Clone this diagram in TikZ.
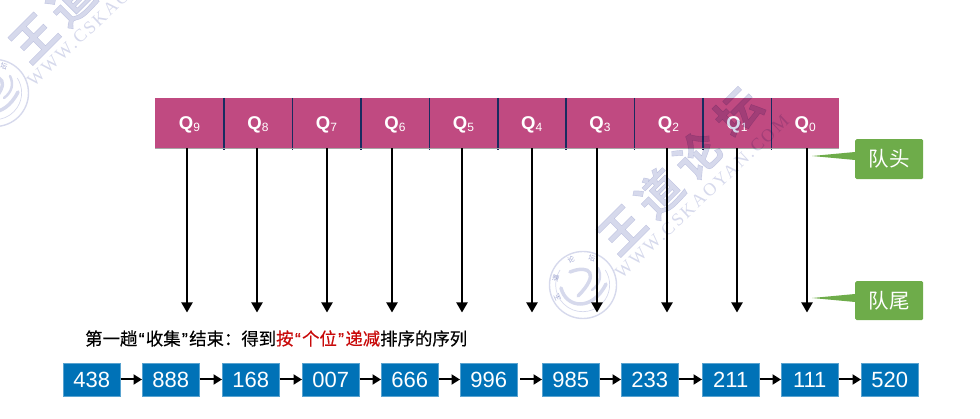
\documentclass[tikz,border=0pt]{standalone}
\usepackage{fontspec}
\setmainfont{Liberation Sans}
\newfontfamily\cjk{Noto Sans CJK SC}
\newfontfamily\cjkb{Noto Sans CJK SC}[FakeBold=0.45]
\newfontfamily\cjkh{Noto Sans CJK SC Bold}[FakeBold=0.8]
\newfontfamily\wmfont{Liberation Serif}[LetterSpace=12]
\newfontfamily\quotefont{Liberation Sans}[FakeBold=0.45]
\usetikzlibrary{arrows.meta,positioning,calc}
\definecolor{qmag}{RGB}{192,74,129}
\definecolor{qdiv}{RGB}{24,44,96}
\definecolor{lgreen}{RGB}{110,172,74}
\definecolor{nblue}{RGB}{0,114,183}
\definecolor{wm}{RGB}{214,217,236}
\definecolor{redt}{RGB}{200,10,10}
\tikzset{
  x=1pt,y=-1pt,
  qcell/.style={fill=qmag,draw=none,minimum height=50pt,inner sep=0pt,text height=14pt,text depth=0pt,text=white,font=\fontsize{18.5}{18}\selectfont\bfseries},
  divline/.style={draw=qdiv,line width=1.3pt},
  qarrow/.style={draw=black,line width=2pt,-{Triangle[length=10pt,width=11pt]}},
  tagbox/.style={fill=lgreen,rounded corners=1.5pt,inner sep=0pt,minimum width=68pt,minimum height=40pt,text=white,font=\fontsize{20.5}{20.5}\selectfont\cjk},
  numbox/.style={fill=nblue,draw=nblue!65!white,line width=.5pt,inner sep=0pt,minimum width=57pt,minimum height=33pt,text=white,font=\fontsize{22}{22}\selectfont},
  linkarrow/.style={draw=black,line width=2pt,-{Triangle[length=8.5pt,width=10pt]}},
  wmchar/.style={text=wm,inner sep=0pt,rotate=45,font=\fontsize{45}{45}\selectfont\cjkh},
  wmurl/.style={text=wm,inner sep=0pt,rotate=43,font=\fontsize{18}{18}\selectfont\wmfont},
  wmring/.style={draw=wm,line width=1.4pt},
  wmtiny/.style={text=wm,inner sep=0pt,font=\fontsize{7}{7}\selectfont\cjkb},
}
\newcommand{\subq}[1]{{\fontsize{12}{10}\selectfont\mdseries\raisebox{-2pt}{#1}}}
\newcommand{\openq}{\makebox[8.5pt]{\quotefont “}}
\newcommand{\closeq}{\makebox[8.5pt]{\quotefont ”}}
\newcommand{\wmark}[2]{%
  \begin{scope}[shift={(#1,#2)}]
    \node[wmchar] at (622,230) {王};
    \node[wmchar] at (659,193) {道};
    \node[wmchar] at (697,155) {论};
    \node[wmchar] at (738,112) {坛};
    \node[wmurl] at (702,197) {WWW.CSKAOYAN.COM};
    \draw[wmring] (583,285) circle (33.5);
    \draw[wmring,line width=.7pt] (560,270) arc[start angle=213,end angle=-33,radius=27,y radius=27];
    \draw[wmring,line width=3.5pt,line cap=round] (561,288) .. controls (566,308) and (592,312) .. (606,284);
    \draw[wmring,line width=3.5pt,line cap=round] (570,272) .. controls (590,264) and (600,274) .. (578,296);
    \draw[wmring,line width=2.5pt,line cap=round] (592,290) .. controls (600,284) and (602,276) .. (598,268);
    \foreach \c/\a in {王/205,道/165,论/115,坛/72}{
      \node[wmtiny,rotate=\a-90] at ($(583,285)+(\a:28.5 and -28.5)$) {\c};
    }
  \end{scope}}
\begin{document}
\begin{tikzpicture}
\useasboundingbox (0,0) rectangle (980,419);
% queue cells
\foreach \n/\l/\r in {9/155/223.5,8/223.5/292,7/292/360.5,6/360.5/429,5/429/497.5,4/497.5/565.5,3/565.5/634,2/634/702.5,1/702.5/771,0/771/839}{
  \node[qcell,minimum width={\r-\l},anchor=west] (q\n) at (\l,123) {Q\subq{\n}};
}
\foreach \a in {9,8,7,6,5,4,3,2,1}{
  \draw[divline] (q\a.north east) -- ($(q\a.south east)+(0,1.5)$);
}
\draw[draw=black!35,line width=.6pt] (q9.south west) -- (q0.south east);
% arrows
\foreach \n/\x in {9/187,8/257,7/327,6/392,5/462,4/532,3/597,2/667,1/737,0/807}{
  \coordinate (e\n) at (\x,312.5);
  \draw[qarrow] (q\n.south -| e\n) -- (e\n);
}
% callouts
\node[tagbox,anchor=north west] (head) at (855,139) {队头};
\node[tagbox,anchor=north west,minimum height=39pt] (tail) at (855,281) {队尾};
\coordinate (ht) at (812,156);
\coordinate (tt) at (812,298);
\fill[lgreen] (ht) -- ($(head.north west)+(0,13)$) -- ($(head.north west)+(0,21)$) -- cycle;
\fill[lgreen] (tt) -- ($(tail.north west)+(0,13)$) -- ($(tail.north west)+(0,21)$) -- cycle;
% caption
\node[anchor=west,inner sep=0pt,font=\fontsize{17.4}{17.4}\selectfont\cjkb] (cap) at (85,338.5)
  {第一趟\openq{}收集\closeq{}结束：得到\textcolor{redt}{按\openq{}个位\closeq{}递减}排序的序列};
% number chain
\foreach \n/\x/\t in {a/63/438,b/142/888,c/222/168,d/302/007,e/381/666,f/460/996,g/542/985,h/621/233,i/702/211,j/781/111,k/861/520}{
  \node[numbox,anchor=west] (\n) at (\x,379.5) {\t};
}
\foreach \p/\q in {a/b,b/c,c/d,d/e,e/f,g/h,h/i,i/j,j/k}{
  \draw[linkarrow] (\p) -- (\q);
}
\draw[linkarrow,shorten <=2.5pt] (f) -- (g);
% watermark
\begin{scope}[blend mode=multiply]
\clip (0,0) rectangle (980,419);
\wmark{0}{0}
\wmark{-588}{-192}
\end{scope}
\end{tikzpicture}
\end{document}
